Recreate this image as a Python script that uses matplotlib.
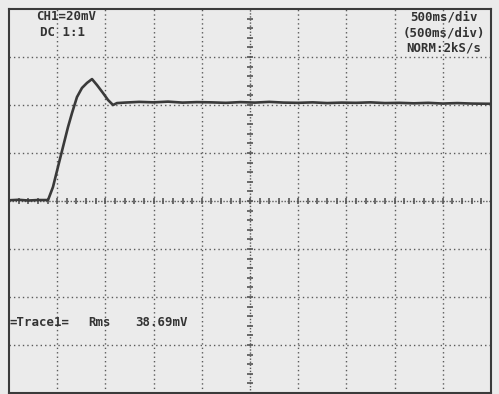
import numpy as np
import matplotlib
matplotlib.use("Agg")
import matplotlib.pyplot as plt

# Trace data (time in s, voltage in mV)
t_rise = [0.00, 0.10, 0.20, 0.30, 0.405, 0.456, 0.508, 0.560, 0.612, 0.654, 0.705,
          0.757, 0.809, 0.861, 0.913, 0.975, 1.027, 1.079, 1.120]
v_rise = [0.3, 0.5, 0.2, 0.4, 0.4, 5.8, 14.2, 22.5, 30.8, 36.7, 43.3,
          47.1, 49.2, 50.8, 48.3, 45.0, 42.1, 40.0, 40.8]
t_flat = [1.20, 1.35, 1.50, 1.65, 1.80, 1.95, 2.10, 2.25, 2.40, 2.55, 2.70, 2.85,
          3.00, 3.15, 3.30, 3.45, 3.60, 3.75, 3.90, 4.05, 4.20, 4.35, 4.50, 4.65,
          4.80, 5.00]
v_flat = [41.0, 41.3, 41.1, 41.4, 41.0, 41.2, 41.1, 40.9, 41.2, 41.0, 41.3, 41.0,
          40.9, 41.1, 40.8, 41.0, 40.9, 41.1, 40.8, 40.9, 40.7, 40.9, 40.6, 40.8,
          40.6, 40.5]

time_s = t_rise + t_flat
volt_mv = v_rise + v_flat

left_labels = ["CH1=20mV", "DC 1:1"]
right_labels = ["500ms/div", "(500ms/div)", "NORM:2kS/s"]
meas_labels = ["=Trace1=", "Rms", "38.69mV"]

BG = "#ebebeb"
INK = "#3a3a3a"

fig = plt.figure(figsize=(4.99, 3.94), dpi=100, facecolor=BG)
ax = fig.add_axes([9/499, 1/394, 482/499, 384/394], facecolor=BG)
ax.set_xlim(0, 5)
ax.set_ylim(-80, 80)

# dotted grid
for x in np.arange(0.5, 5.0, 0.5):
    if abs(x - 2.5) > 1e-6:
        ax.axvline(x, color="#5a5a5a", lw=1.0, ls=(0, (1, 2.2)))
for y in np.arange(-60, 80, 20):
    if abs(y) > 1e-6:
        ax.axhline(y, color="#5a5a5a", lw=1.0, ls=(0, (1, 2.2)))

# centre lines with graduations
ax.axhline(0, color="#5a5a5a", lw=1.0, ls=(0, (1, 1.2)))
ax.axvline(2.5, color="#5a5a5a", lw=1.0, ls=(0, (1, 1.2)))
xm = np.arange(0.1, 5.0, 0.1)
ax.plot(xm, np.zeros_like(xm), ls="none", marker="|", ms=5, mew=1.2, color="#555555")
ym = np.arange(-76, 80, 4)
ax.plot(np.full_like(ym, 2.5, dtype=float), ym, ls="none", marker="_", ms=5, mew=1.2, color="#555555")

ax.set_xticks([])
ax.set_yticks([])
for s in ax.spines.values():
    s.set_color("#3a3a3a")
    s.set_linewidth(1.5)

# trace
ax.plot(time_s, volt_mv, color=INK, lw=1.9, solid_joinstyle="round")

font = dict(family="DejaVu Sans Mono", weight="bold", size=8.9, color="#333333")
ax.text(66/499, 1 - 17/394, left_labels[0], transform=fig.transFigure, ha="center", va="center", **font)
ax.text(62/499, 1 - 32/394, left_labels[1], transform=fig.transFigure, ha="center", va="center", **font)
for i, lab in enumerate(right_labels):
    ax.text(444/499, 1 - (17 + 15.5*i)/394, lab, transform=fig.transFigure,
            ha="center", va="center", **font)
ax.text(10/499, 1 - 322/394, meas_labels[0], transform=fig.transFigure, ha="left", va="center", **font)
ax.text(88/499, 1 - 322/394, meas_labels[1], transform=fig.transFigure, ha="left", va="center", **font)
ax.text(135/499, 1 - 322/394, meas_labels[2], transform=fig.transFigure, ha="left", va="center", **font)

fig.savefig("out.png", dpi=100, facecolor=BG)
